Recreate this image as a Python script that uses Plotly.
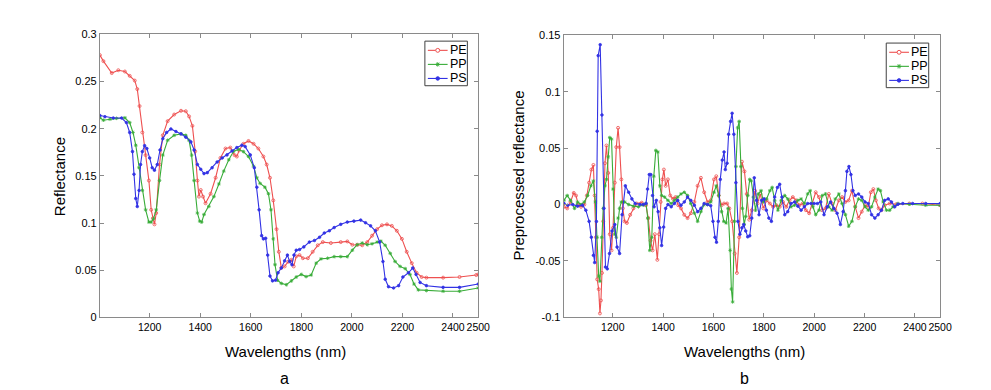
import plotly.graph_objects as go

# ---------------- Panel a : raw reflectance ----------------
a_pe_x = [1003,1017,1050,1076,1102,1121,1141,1151,1160,1171,1184,1197,1206,1213,1219,1226,1239,1252,1271,1297,
          1324,1343,1356,1369,1380,1389,1395,1402,1411,1421,1441,1461,1480,1500,1519,1536,1545,1554,1571,1591,
          1611,1630,1650,1663,1676,1689,1702,1711,1721,1734,1748,1761,1770,1780,1793,1806,1826,1845,1865,1885,
          1917,1956,1982,2002,2021,2041,2061,2080,2100,2119,2139,2158,2178,2198,2217,2237,2256,2276,2295,2361,
          2426,2492,2500]
a_pe_y = [0.278,0.2716,0.259,0.262,0.2606,0.256,0.251,0.242,0.224,0.196,0.172,0.145,0.114,0.105,0.0986,0.1106,0.162,0.193,0.208,0.215,
          0.219,0.2185,0.213,0.203,0.176,0.145,0.128,0.135,0.128,0.121,0.131,0.148,0.169,0.179,0.18,0.172,0.1705,0.177,0.184,0.187,
          0.184,0.179,0.1705,0.162,0.148,0.124,0.0935,0.0695,0.0524,0.054,0.059,0.061,0.054,0.0647,0.066,0.0627,0.0627,0.0695,0.0764,0.0798,
          0.0788,0.0798,0.0805,0.077,0.077,0.0764,0.0798,0.0866,0.0935,0.0976,0.0986,0.097,0.0918,0.0832,0.0695,0.0575,0.0473,0.0428,0.0421,0.0421,
          0.0428,0.0449,0.0455]

a_pp_x = [1003,1017,1043,1069,1102,1121,1134,1145,1158,1171,1184,1197,1206,1215,1226,1239,1252,1271,1297,1324,
          1343,1356,1366,1376,1389,1398,1406,1415,1434,1454,1474,1493,1513,1532,1552,1571,1591,1611,1624,1637,
          1656,1670,1680,1689,1696,1706,1721,1741,1761,1780,1800,1819,1839,1859,1878,1904,1930,1956,1982,2002,
          2021,2041,2061,2080,2100,2115,2132,2152,2171,2191,2211,2230,2246,2263,2295,2361,2426,2500]
a_pp_y = [0.2116,0.209,0.21,0.211,0.2116,0.2065,0.196,0.1825,0.1586,0.1346,0.114,0.101,0.101,0.1045,0.114,0.145,0.172,0.1877,0.193,0.1945,
          0.193,0.1877,0.172,0.145,0.1106,0.102,0.101,0.109,0.1175,0.128,0.1414,0.155,0.167,0.176,0.178,0.1757,0.1705,0.1603,0.148,0.142,
          0.138,0.131,0.114,0.0832,0.0558,0.0394,0.036,0.0346,0.0387,0.0428,0.0455,0.0432,0.0449,0.0575,0.062,0.0627,0.0644,0.0644,0.0644,0.0712,
          0.077,0.0788,0.077,0.078,0.0798,0.0808,0.0764,0.0678,0.0592,0.054,0.0517,0.0455,0.0353,0.0291,0.0284,0.0277,0.0277,0.0312]

a_ps_x = [1003,1023,1056,1089,1108,1121,1132,1138,1145,1151,1158,1164,1171,1180,1189,1200,1210,1219,1230,1241,
          1252,1267,1284,1304,1324,1343,1363,1376,1389,1402,1415,1428,1447,1467,1487,1506,1526,1545,1565,1578,
          1598,1614,1624,1633,1643,1650,1659,1667,1676,1686,1698,1708,1721,1734,1745,1754,1763,1771,1780,1793,
          1810,1832,1852,1872,1891,1911,1930,1956,1982,2008,2035,2054,2074,2093,2110,2123,2132,2145,2165,2185,
          2202,2224,2241,2254,2270,2295,2361,2426,2500]
a_ps_y = [0.214,0.2127,0.2113,0.2113,0.2065,0.196,0.1757,0.1517,0.126,0.1175,0.1346,0.162,0.1757,0.182,0.179,0.169,0.1586,0.156,0.162,0.1774,
          0.1894,0.196,0.1997,0.197,0.1945,0.191,0.186,0.1774,0.162,0.157,0.1524,0.1534,0.1586,0.1647,0.169,0.1722,0.1764,0.18,0.1825,0.181,
          0.1722,0.1586,0.138,0.114,0.0866,0.0832,0.0839,0.066,0.0438,0.0387,0.0394,0.0473,0.0524,0.0599,0.066,0.0592,0.0558,0.066,0.0712,0.0719,
          0.0747,0.0798,0.0815,0.0849,0.0894,0.0918,0.0952,0.0986,0.101,0.102,0.1031,0.1003,0.097,0.0918,0.0798,0.0592,0.0404,0.0325,0.0312,0.0336,
          0.0428,0.0473,0.0524,0.0455,0.037,0.0336,0.0318,0.0318,0.0353]

# ---------------- Panel b : preprocessed reflectance ----------------
b_pe_x = [1006,1019,1032,1045,1054,1063,1074,1087,1097,1106,1115,1123,1128,1133,1138,1144,1149,1153,1157,1162,
          1169,1175,1182,1188,1195,1201,1208,1214,1221,1227,1234,1240,1247,1256,1269,1282,1295,1315,1332,1341,
          1350,1358,1367,1377,1384,1390,1397,1403,1410,1419,1428,1439,1449,1460,1471,1484,1497,1510,1524,1537,
          1550,1563,1576,1589,1602,1611,1621,1632,1642,1654,1663,1674,1684,1693,1702,
          1713,1723,1732,1742,1752,1765,1775,1786,1798,1811,1824,1837,1850,1863,1876,1889,1902,1915,1928,1941,
          1954,1967,1980,1993,2006,2019,2032,2045,2058,2071,2084,2098,2111,2124,2137,2150,2163,2176,2189,2202,
          2215,2225,2235,2245,2256,2267,2280,2300,2326,2378,2430,2500]
b_pe_y = [-0.002,-0.0034,0.0023,0.0103,0.008,-0.0006,-0.002,0,0.008,0.0194,0.031,0.0351,0.008,-0.029,-0.0663,-0.075,-0.0965,-0.085,-0.0606,-0.0149,
          0.0366,0.0523,0.028,-0.0263,-0.0406,-0.0206,0.0194,0.0509,0.068,0.0509,0.0223,-0.0034,-0.0149,-0.0163,-0.0091,-0.0034,0.0009,0.0017,-0.0006,-0.012,
          -0.032,-0.0406,-0.0263,-0.049,-0.0263,0.0023,0.0223,0.031,0.0166,0.0223,0.008,0.0051,0.0066,-0.0006,-0.0034,-0.0091,-0.012,-0.0077,0.0023,0.0166,
          0.0237,0.0109,0.0023,0.0037,0.0223,0.0251,0.008,-0.0006,0.0009,0.0009,-0.0034,-0.0149,-0.0434,-0.0606,-0.029,
          0.038,0.0294,0.0094,-0.0134,-0.005,0.0123,0.0009,0.0094,-0.0034,0.0037,0.0009,-0.002,-0.0006,-0.002,0.0023,-0.002,0.0037,0.0066,0.0037,-0.0006,
          0.0009,-0.005,-0.0077,0.0009,0.0109,0.0066,-0.005,-0.0034,0.0094,0.0009,-0.005,0.0037,0.0066,0.0023,0.0037,0.0123,-0.002,-0.012,-0.0063,-0.0006,
          -0.002,0.0109,0.0137,0.0037,-0.0034,-0.005,-0.0006,0.0009,0.0003,0.0009,0.0009,-0.0006]

b_pp_x = [1006,1019,1032,1048,1060,1074,1087,1100,1113,1123,1131,1138,1144,1149,1156,1162,1169,1175,1182,1188,
          1195,1201,1208,1214,1221,1227,1234,1247,1263,1282,1302,1321,1332,1339,1347,1355,1363,1371,1379,1387,
          1394,1406,1419,1432,1445,1458,1471,1484,1497,1510,1524,1537,1550,1563,1576,1589,1602,1611,1621,1632,
          1641,1650,1658,1666,1671,1676,1683,1689,1696,1702,1709,1715,1722,1728,1736,1744,
          1750,1758,1767,1778,1789,1798,1811,1824,1833,1843,1856,1869,1883,1895,1908,1922,1935,1948,1961,1974,
          1984,1995,2006,2019,2032,2045,2058,2071,2084,2098,2111,2124,2137,2150,2163,2176,2189,2202,2215,2228,
          2241,2254,2263,2274,2287,2300,2313,2333,2378,2443,2500]
b_pp_y = [0.0037,0.008,0.0037,-0.0034,0.0023,0,0.0023,0.008,0.0166,0.0209,0.0023,-0.029,-0.0634,-0.068,-0.029,-0.0034,0.0166,0.0223,0.0423,0.0594,
          0.058,0.0137,-0.0263,-0.029,-0.012,-0.0034,0.0023,0.0023,0,-0.0014,-0.002,-0.0006,0.0009,-0.012,-0.0406,-0.029,0.0251,0.048,0.0466,0.0166,
          0.008,0.0066,0.0037,0.0009,0.0037,0.0066,0.0094,0.0109,0.008,0.0009,-0.0077,-0.0149,-0.0063,0,0,0.0023,0.0109,0.0166,0.008,-0.0063,
          -0.0149,-0.0163,-0.0034,-0.0406,-0.0749,-0.0863,-0.0149,0.0337,0.068,0.0737,0.0337,-0.0034,-0.0177,-0.0106,0.008,0.0223,
          0.0209,0.0066,-0.005,0.0094,0.0123,0.0023,0.005,0.0123,0.0152,0.0037,-0.005,0.0037,0.008,0.005,-0.002,-0.0006,0.0037,0.005,0.0009,0.0094,
          0.0123,-0.002,-0.009,-0.005,0.008,0.0094,-0.002,-0.005,0.005,0.0094,0.0009,-0.009,-0.0192,-0.0149,-0.002,0.005,0.0037,-0.002,-0.005,-0.002,
          0.0066,0.0137,0.0123,0.0023,-0.005,-0.005,-0.002,0.0009,0.0003,-0.0006,-0.0006]

b_ps_x = [1006,1021,1041,1060,1080,1093,1106,1115,1123,1128,1135,1138,1142,1150,1157,1165,1171,1178,1187,1197,
          1208,1217,1227,1237,1250,1263,1276,1289,1308,1321,1332,1338,1345,1351,1358,1364,1373,1380,1387,1394,
          1402,1410,1419,1432,1445,1458,1471,1484,1497,1510,1524,1537,1550,1563,1576,1589,1598,1606,1612,1619,
          1627,1635,1642,1647,1654,1660,1668,1674,1681,1689,1697,1705,1713,1720,1728,1736,1744,1752,
          1762,1771,1781,1791,1801,1810,1820,1830,1843,1854,1863,1872,1883,1895,1908,1922,1935,1948,1961,1974,
          1987,2000,2013,2026,2039,2052,2065,2078,2091,2104,2115,2124,2130,2138,2146,2154,2163,2176,2189,2202,
          2215,2228,2241,2254,2267,2280,2294,2307,2320,2333,2352,2391,2443,2500]
b_ps_y = [0.001,-0.0006,0,-0.0014,-0.0006,-0.005,-0.0149,-0.029,-0.045,-0.0514,-0.015,0.065,0.132,0.1417,0.0794,-0.0034,-0.0554,-0.057,-0.0434,-0.0234,
          -0.0177,-0.0377,-0.0434,-0.009,0.0166,0.0109,0.005,0.0009,0,0,0.001,0.0137,0.0266,0.0266,0.008,-0.002,0.0037,-0.0063,-0.0206,-0.0363,
          -0.02,-0.0034,0,-0.002,0.001,0.0037,-0.0006,0.0023,0.0066,0.0037,-0.0006,-0.0063,-0.0034,0.0009,0,-0.001,-0.0149,-0.029,-0.0334,-0.0149,
          0.0223,0.0394,0.0466,0.031,0.0366,0.0623,0.0737,0.0809,0.0623,0.0194,-0.0149,-0.0263,-0.0206,-0.0177,-0.0234,-0.0286,-0.0277,-0.012,
          0.0237,0.0037,-0.009,0.0037,0.005,-0.005,-0.012,-0.0149,0.0066,0.0152,0.018,0.0066,-0.009,-0.0063,0.0009,0.0023,-0.0014,-0.005,-0.002,0.0009,
          0.0009,0.0009,0.0009,0.0023,-0.009,-0.002,0.0023,-0.0034,-0.0077,-0.0177,-0.0063,0.0123,0.0294,0.0337,0.0266,0.0123,0.008,0.0094,0.0066,0.0023,
          0.0009,-0.009,-0.012,-0.009,-0.005,0.0037,0.005,0.0023,-0.002,0.0003,0.0009,0.0009,0.0009,0.0009]

series_names = ["PE", "PP", "PS"]
x_tickvals = [1200, 1400, 1600, 1800, 2000, 2200, 2400, 2500]
a_ytickvals = [0, 0.05, 0.1, 0.15, 0.2, 0.25, 0.3]
a_yticktext = ["0", "0.05", "0.1", "0.15", "0.2", "0.25", "0.3"]
b_ytickvals = [-0.1, -0.05, 0, 0.05, 0.1, 0.15]
b_yticktext = ["-0.1", "-0.05", "0", "0.05", "0.1", "0.15"]

colors = ["rgb(238,80,80)", "rgb(56,172,56)", "rgb(50,50,228)"]
symbols = ["circle-open", "asterisk-open", "circle"]
msizes = [3, 3, 2.6]

FONT = "Liberation Sans, Arial, Helvetica, sans-serif"
W, H = 991, 390

fig = go.Figure()

panels = [
    ("x", "y", [(a_pe_x, a_pe_y), (a_pp_x, a_pp_y), (a_ps_x, a_ps_y)]),
    ("x2", "y2", [(b_pe_x, b_pe_y), (b_pp_x, b_pp_y), (b_ps_x, b_ps_y)]),
]
for xa, ya, data in panels:
    for i, (xs, ys) in enumerate(data):
        fig.add_trace(go.Scatter(
            x=xs, y=ys, xaxis=xa, yaxis=ya, name=series_names[i],
            mode="lines+markers", showlegend=False,
            line=dict(color=colors[i], width=1.1),
            marker=dict(symbol=symbols[i], size=msizes[i], color=colors[i],
                        line=dict(color=colors[i], width=0.8)),
        ))

ax_common = dict(showline=True, linecolor="#8a8a8a", linewidth=1, mirror="ticks",
                 ticks="inside", ticklen=4, tickcolor="#8a8a8a", tickwidth=1,
                 showgrid=False, zeroline=False)

fig.update_layout(
    width=W, height=H,
    margin=dict(l=0, r=0, t=0, b=0),
    paper_bgcolor="white", plot_bgcolor="white",
    font=dict(family=FONT, color="black"),
    showlegend=False,
    xaxis=dict(ax_common, domain=[93/W, 476/W], range=[1003, 2500], tickvals=x_tickvals,
               tickangle=0, anchor="y", tickfont=dict(family=FONT, size=10.5, color="black")),
    yaxis=dict(ax_common, domain=[1-313/H, 1-21/H], range=[0, 0.3], tickvals=a_ytickvals,
               ticktext=a_yticktext, anchor="x", tickfont=dict(family=FONT, size=11, color="black")),
    xaxis2=dict(ax_common, domain=[562.5/W, 943.5/W], range=[1005, 2500], tickvals=x_tickvals,
                tickangle=0, anchor="y2", tickfont=dict(family=FONT, size=10.5, color="black")),
    yaxis2=dict(ax_common, domain=[1-313/H, 1-22/H], range=[-0.1, 0.15], tickvals=b_ytickvals,
                ticktext=b_yticktext, anchor="x2", tickfont=dict(family=FONT, size=11, color="black")),
)

# ---- MATLAB-style legend boxes (styling only, drawn in paper space) ----
def px(x):
    return x / W

def py(y):
    return 1 - y / H

def add_legend(left, top):
    fig.add_shape(type="rect", xref="paper", yref="paper",
                  x0=px(left), x1=px(left + 43), y0=py(top), y1=py(top + 46),
                  line=dict(color="#404040", width=1), fillcolor="white", layer="above")
    rows = [top + 9.5, top + 24, top + 38.5]
    for i, ry in enumerate(rows):
        c = colors[i]
        fig.add_shape(type="line", xref="paper", yref="paper",
                      x0=px(left + 3), x1=px(left + 23), y0=py(ry), y1=py(ry),
                      line=dict(color=c, width=1.1), layer="above")
        cx = left + 13
        if i == 0:
            fig.add_shape(type="circle", xref="paper", yref="paper",
                          x0=px(cx - 2), x1=px(cx + 2), y0=py(ry - 2), y1=py(ry + 2),
                          line=dict(color=c, width=1), fillcolor="white", layer="above")
        elif i == 1:
            for dx, dy in [(2.2, 0), (0, 2.2), (1.6, 1.6), (1.6, -1.6)]:
                fig.add_shape(type="line", xref="paper", yref="paper",
                              x0=px(cx - dx), x1=px(cx + dx), y0=py(ry - dy), y1=py(ry + dy),
                              line=dict(color=c, width=1), layer="above")
        else:
            fig.add_shape(type="circle", xref="paper", yref="paper",
                          x0=px(cx - 1.8), x1=px(cx + 1.8), y0=py(ry - 1.8), y1=py(ry + 1.8),
                          line=dict(color=c, width=1), fillcolor=c, layer="above")
        fig.add_annotation(xref="paper", yref="paper", x=px(left + 23.5), y=py(ry),
                           xanchor="left", yanchor="middle", showarrow=False,
                           text=series_names[i], font=dict(family=FONT, size=12.5, color="black"))

add_legend(422, 28)
add_legend(889, 30)

ann = [
    dict(text="Reflectance", x=52/W, y=1-168/H, textangle=-90, font_size=15),
    dict(text="Wavelengths (nm)", x=281/W, y=1-348/H, font_size=15),
    dict(text="a", x=280/W, y=1-376/H, font_size=16),
    dict(text="Preprocessed reflectance", x=517/W, y=1-167/H, textangle=-90, font_size=15),
    dict(text="Wavelengths (nm)", x=746/W, y=1-348/H, font_size=15),
    dict(text="b", x=746/W, y=1-376/H, font_size=16),
]
for a in ann:
    fig.add_annotation(xref="paper", yref="paper", showarrow=False,
                       xanchor="center", yanchor="middle",
                       font=dict(family=FONT, size=a.pop("font_size"), color="black"), **a)

fig.write_html("out.html")
